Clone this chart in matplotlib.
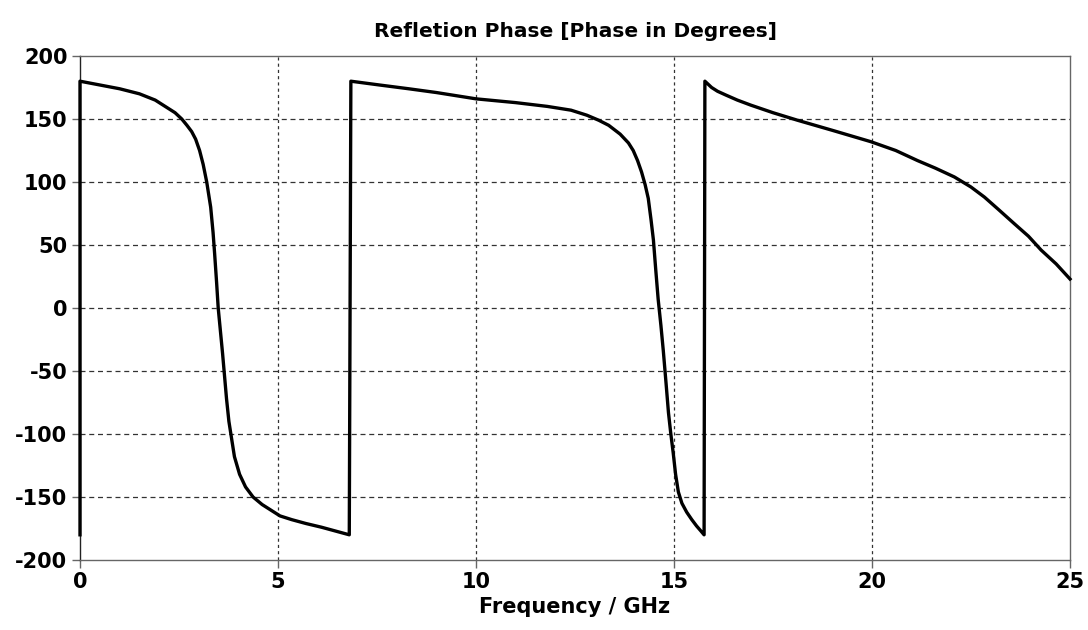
import matplotlib.pyplot as plt

# values (GHz, degrees)
freq = [0.0, 0.0, 0.5, 1.0, 1.5, 1.9, 2.15, 2.4, 2.57, 2.7, 2.82, 2.92, 3.02,
        3.11, 3.2, 3.3, 3.36, 3.4, 3.45, 3.49, 3.6, 3.7, 3.76, 3.82, 3.9,
        4.03, 4.18, 4.37, 4.6, 4.85, 5.05, 5.35, 5.7, 6.1, 6.45, 6.8,
        6.84, 7.56, 8.3, 9.0, 9.6, 10.0, 11.0, 11.8, 12.4, 12.8, 13.1, 13.35,
        13.64, 13.85, 13.97, 14.08, 14.18, 14.27, 14.35, 14.42, 14.48, 14.54,
        14.6, 14.67, 14.73, 14.8, 14.86, 14.92, 14.98, 15.04, 15.11, 15.2,
        15.32, 15.45, 15.57, 15.68, 15.76,
        15.78, 15.95, 16.1, 16.31, 16.6, 16.94, 17.5, 18.12, 19.0, 19.97,
        20.6, 21.15, 21.6, 22.08, 22.5, 22.84, 23.2, 23.59, 23.95, 24.27,
        24.65, 25.0]
phase = [-180, 180, 177, 174, 170, 165, 160, 155, 150, 145, 140, 134, 125,
         114, 100, 80, 60, 43, 20, 0, -36, -72, -90, -102, -118,
         -132, -142, -150, -156, -161, -165, -168, -171, -174, -177, -180,
         180, 177, 174, 171, 168, 166, 163, 160, 157, 153, 149, 145,
         138, 131, 125, 117, 108, 98, 87, 70, 54, 30,
         7, -14, -34, -60, -83, -100, -115, -132, -146, -155,
         -162, -168, -173, -177, -180,
         180, 175, 172, 169, 165, 161, 155, 149, 141, 132,
         125, 117, 111, 104, 96, 88, 78, 67, 57, 46,
         35, 23]

xticks = [0, 5, 10, 15, 20, 25]
yticks = [-200, -150, -100, -50, 0, 50, 100, 150, 200]

plt.rcParams['font.family'] = ['DejaVu Sans']
plt.rcParams['axes.unicode_minus'] = False

fig = plt.figure(figsize=(10.88, 6.30), dpi=100)
ax = fig.add_axes([80 / 1088, 1 - 560 / 630, 990 / 1088, 504 / 630])

ax.plot(freq, phase, color='black', linewidth=2.4, solid_joinstyle='round',
        clip_on=False, zorder=3)

ax.set_xlim(0, 25)
ax.set_ylim(-200, 200)
ax.set_xticks(xticks)
ax.set_yticks(yticks)

# grid: dashed horizontal, finer dashes vertical
for y in yticks[1:-1]:
    ax.axhline(y, color='#333333', linewidth=0.9, linestyle=(0, (4, 3)), zorder=1)
for x in xticks[1:-1]:
    ax.axvline(x, color='#333333', linewidth=0.9, linestyle=(0, (2.5, 2.5)), zorder=1)

for side in ['top', 'bottom', 'right']:
    ax.spines[side].set_color('#666666')
    ax.spines[side].set_linewidth(1.0)
ax.spines['left'].set_color('#222222')
ax.spines['left'].set_linewidth(1.0)

ax.tick_params(axis='both', direction='out', length=6, width=1.0, color='#666666',
               labelsize=15, pad=3)
for lbl in ax.get_xticklabels() + ax.get_yticklabels():
    lbl.set_fontweight('bold')

ax.set_title('Refletion Phase [Phase in Degrees]', fontsize=14.5, fontweight='bold', pad=14)
ax.set_xlabel('Frequency / GHz', fontsize=15, fontweight='bold', labelpad=3)

fig.savefig('out.png', dpi=100)
